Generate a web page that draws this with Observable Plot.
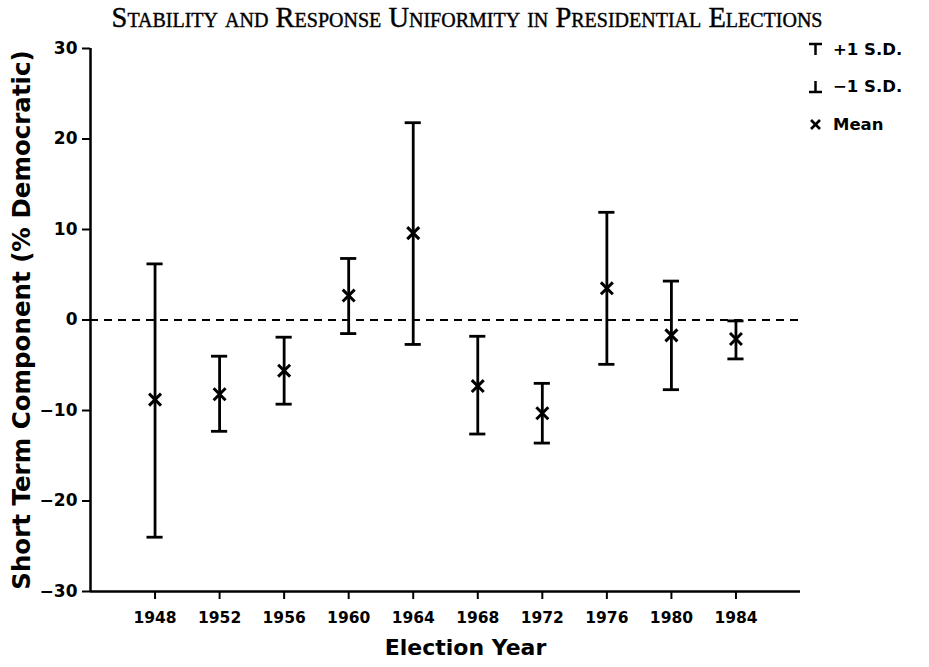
<!DOCTYPE html>
<html><head><meta charset="utf-8">
<script src="https://cdn.jsdelivr.net/npm/d3@7"></script>
<script src="https://cdn.jsdelivr.net/npm/@observablehq/plot@0.6"></script>
<style>
body{margin:0;background:#fff;}
#wrap{position:relative;width:929px;height:667px;overflow:hidden;}
#title{position:absolute;left:0;top:0;width:934px;height:36px;text-align:center;font-family:"Liberation Serif",serif;font-variant:small-caps;font-size:28.5px;line-height:36px;color:#000;-webkit-text-stroke:0.4px #000;}
#chart{position:absolute;left:0;top:36px;}
#legend{position:absolute;left:808px;top:37px;font-family:"DejaVu Sans",sans-serif;font-weight:bold;font-size:16.5px;color:#000;}
.row{position:absolute;left:0;height:24px;white-space:nowrap;display:flex;align-items:center;}
.row svg{margin-right:10px;}
</style>
</head><body>
<div id="wrap">
  <div id="title">Stability and Response Uniformity in Presidential Elections</div>
  <div id="chart"></div>
  <div id="legend"></div>
</div>
<script>
const years   = [1948, 1952, 1956, 1960, 1964, 1968, 1972, 1976, 1980, 1984];
const means   = [-8.8, -8.2, -5.6, 2.7, 9.6, -7.3, -10.3, 3.5, -1.7, -2.1];
const plusSD  = [6.2, -4.0, -1.9, 6.8, 21.8, -1.8, -7.0, 11.9, 4.3, -0.1];
const minusSD = [-24.0, -12.3, -9.3, -1.5, -2.7, -12.6, -13.6, -4.9, -7.7, -4.3];
const yTicks  = [-30, -20, -10, 0, 10, 20, 30];
const legendLabels = ["+1 S.D.", "\u22121 S.D.", "Mean"];

const data = years.map((y, i) => ({year: y, mean: means[i], hi: plusSD[i], lo: minusSD[i]}));
const capHalf = 0.5; // half cap width in years

const font = "DejaVu Sans, sans-serif";

const plot = Plot.plot({
  width: 929,
  height: 631,
  marginTop: 12,
  marginBottom: 76,
  marginLeft: 90,
  marginRight: 129,
  style: {fontFamily: font, fontWeight: "bold", color: "#000", background: "#fff"},
  x: {domain: [1944, 1988]},
  y: {domain: [-30, 30]},
  marks: [
    Plot.ruleY([0], {strokeDasharray: "8,6", strokeWidth: 2}),
    Plot.ruleX([1944], {strokeWidth: 2.5}),
    Plot.ruleY([-30], {strokeWidth: 2.5}),
    Plot.axisY({ticks: yTicks, tickSize: 8, tickPadding: 5, tickFormat: d => d < 0 ? "\u2212" + Math.abs(d) : String(d), fontSize: 17, strokeWidth: 2, label: null}),
    Plot.axisY({ticks: [], label: "Short Term Component (% Democratic)", labelAnchor: "center", labelOffset: 78, labelArrow: "none", fontSize: 24.5}),
    Plot.axisX({ticks: years, tickSize: 8, tickPadding: 12, tickFormat: d => String(d), fontSize: 15.5, strokeWidth: 2, label: null}),
    Plot.text(["Election Year"], {frameAnchor: "bottom", dy: 63, dx: 20, fontSize: 22, fontWeight: "bold"}),
    Plot.ruleX(data, {x: "year", y1: "lo", y2: "hi", strokeWidth: 2.8}),
    Plot.ruleY(data, {y: "hi", x1: d => d.year - capHalf, x2: d => d.year + capHalf, strokeWidth: 2.8}),
    Plot.ruleY(data, {y: "lo", x1: d => d.year - capHalf, x2: d => d.year + capHalf, strokeWidth: 2.8}),
    Plot.dot(data, {x: "year", y: "mean", symbol: "times", r: 5.5, stroke: "#000", strokeWidth: 3})
  ]
});
document.getElementById("chart").appendChild(plot);

// legend
const icons = [
  '<svg width="15" height="14"><line x1="1" y1="2" x2="14" y2="2" stroke="#000" stroke-width="2.5"/><line x1="7.5" y1="2" x2="7.5" y2="13" stroke="#000" stroke-width="2.5"/></svg>',
  '<svg width="15" height="14"><line x1="1" y1="12" x2="14" y2="12" stroke="#000" stroke-width="2.5"/><line x1="7.5" y1="1" x2="7.5" y2="12" stroke="#000" stroke-width="2.5"/></svg>',
  '<svg width="15" height="14"><line x1="3" y1="3" x2="12" y2="12" stroke="#000" stroke-width="2.6"/><line x1="12" y1="3" x2="3" y2="12" stroke="#000" stroke-width="2.6"/></svg>'
];
const leg = document.getElementById("legend");
legendLabels.forEach((t, i) => {
  const r = document.createElement("div");
  r.className = "row";
  r.style.top = (i * 37.5) + "px";
  r.innerHTML = icons[i] + "<span>" + t + "</span>";
  leg.appendChild(r);
});
</script>
</body></html>
